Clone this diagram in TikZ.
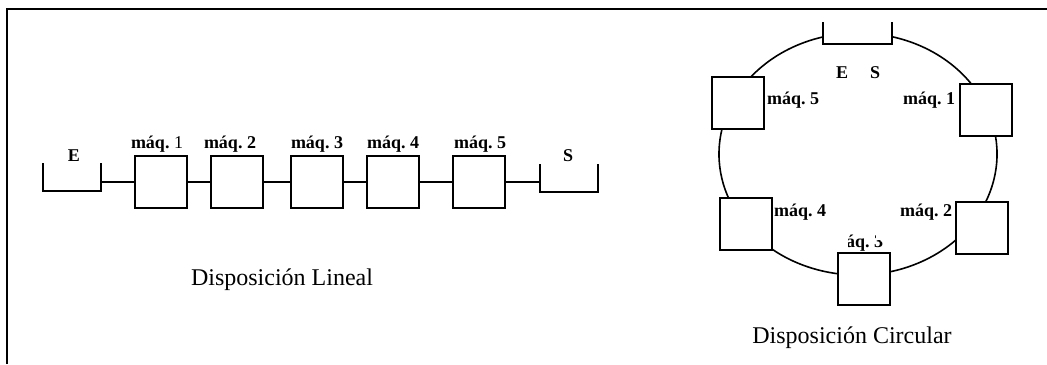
\documentclass[tikz,border=0pt]{standalone}
\usepackage{fontspec}
\setmainfont{Liberation Serif}
\begin{document}
\begin{tikzpicture}[x=0.5pt,y=-0.5pt,
  mbox/.style={draw,line width=1pt,fill=white,minimum width=26pt,minimum height=26pt,inner sep=0pt},
  tag/.style={font=\fontsize{9}{10}\selectfont\bfseries,inner sep=0pt},
  title/.style={font=\fontsize{12}{14}\selectfont,inner sep=0pt},
  wire/.style={line width=0.8pt},
  tray/.style={line width=1pt}]
\useasboundingbox (0,0) rectangle (1047,364);
% frame
\draw[line width=1pt] (7,364) -- (7,9) -- (1047,9);

% ---- linear layout ----
\draw[tray] (43,163) -- (43,191) -- (101,191) -- (101,163);
\coordinate (eR) at (101,182);
\draw[tray] (540,164) -- (540,192) -- (598,192) -- (598,164);
\coordinate (sL) at (540,182);
\node[mbox] (l1) at (161,182) {};
\node[mbox] (l2) at (237,182) {};
\node[mbox] (l3) at (317,182) {};
\node[mbox] (l4) at (393,182) {};
\node[mbox] (l5) at (479,182) {};
\draw[wire] (eR) -- (l1);
\draw[wire] (l1) -- (l2);
\draw[wire] (l2) -- (l3);
\draw[wire] (l3) -- (l4);
\draw[wire] (l4) -- (l5);
\draw[wire] (l5) -- (sL);
\node[tag] (tE) at (74,156) {E};
\node[tag] (tS) at (568,156) {S};
\node[tag] (t1) at (157,144) {máq.\ \mdseries 1};
\node[tag] (t2) at (230,144) {máq.\ 2};
\node[tag] (t3) at (317,144) {máq.\ 3};
\node[tag] (t4) at (393,144) {máq.\ 4};
\node[tag] (t5) at (480,144) {máq.\ 5};
\node[title] (lin) at (282,280) {Disposición Lineal};

% ---- circular layout ----
\draw[wire] (892,36.7) arc[start angle=-75.84,end angle=255.42,x radius=139,y radius=121];
\draw[tray] (823,22) -- (823,44) -- (892,44) -- (892,22);
\node[mbox] (c5) at (738,103) {};
\node[mbox] (c1) at (985.5,110) {};
\node[mbox] (c4) at (746,223.5) {};
\node[mbox] (c2) at (982,227.5) {};
\node[mbox] (c3) at (864,279) {};
\node[tag] (cE) at (842,73) {E};
\node[tag] (cS) at (875,73) {S};
\node[tag] (k5) at (793,100) {máq.\ 5};
\node[tag] (k1) at (929,100) {máq.\ 1};
\node[tag] (k4) at (800,212) {máq.\ 4};
\node[tag] (k2) at (926,212) {máq.\ 2};
\begin{scope}
  \clip (848,228) -- (875,228) -- (875,240) -- (892,240) -- (892,252) -- (848,252) -- cycle;
  \node[tag,anchor=base] (k3) at (857,247) {máq.\ 3};
\end{scope}
\node[title] (circ) at (852,338) {Disposición Circular};
\end{tikzpicture}
\end{document}
